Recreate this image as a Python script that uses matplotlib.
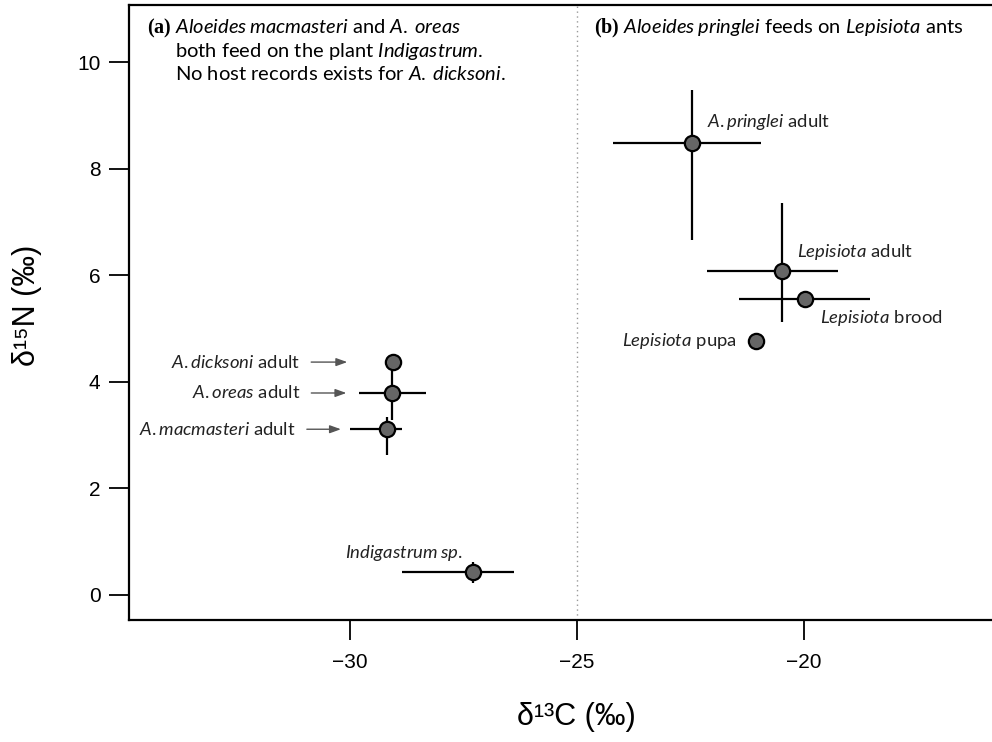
import matplotlib
matplotlib.use("Agg")
import matplotlib.pyplot as plt

# ── data (δ13C, δ15N with low/high extent of the bars) ───────────────────────
NAMES = ["A.pringlei", "Lepisiota adult", "Lepisiota brood", "Lepisiota pupa",
         "A.dicksoni", "A.oreas", "A.macmasteri", "Indigastrum"]
C13     = [-22.47, -20.48, -19.98, -21.06, -29.05, -29.07, -29.19, -27.29]
C13_LO  = [-24.21, -22.14, -21.43, -21.06, -29.05, -29.80, -30.00, -28.85]
C13_HI  = [-20.95, -19.25, -18.55, -21.06, -29.05, -28.33, -28.85, -26.39]
N15     = [8.48, 6.08, 5.55, 4.77, 4.37, 3.79, 3.11, 0.43]
N15_LO  = [6.66, 5.12, 5.55, 4.77, 4.37, 3.28, 2.63, 0.23]
N15_HI  = [9.47, 7.35, 5.55, 4.77, 4.37, 4.30, 3.34, 0.62]

LABELS = [r"$\mathit{A.pringlei}$ adult",
          r"$\mathit{Lepisiota}$ adult",
          r"$\mathit{Lepisiota}$ brood",
          r"$\mathit{Lepisiota}$ pupa",
          r"$\mathit{A.dicksoni}$ adult",
          r"$\mathit{A.oreas}$ adult",
          r"$\mathit{A.macmasteri}$ adult",
          r"$\mathit{Indigastrum\:sp.}$"]

PANEL_A = [r"$\mathbf{(a)}$ $\mathit{Aloeides\:macmasteri}$ and $\mathit{A.\:oreas}$",
           r"both feed on the plant $\mathit{Indigastrum}$.",
           r"No host records exists for $\mathit{A.\:dicksoni}$."]
PANEL_B = r"$\mathbf{(b)}$ $\mathit{Aloeides\:pringlei}$ feeds on $\mathit{Lepisiota}$ ants"

X_TICKS = [-30, -25, -20]
Y_TICKS = [0, 2, 4, 6, 8, 10]

plt.rcParams["font.family"] = ["Lato", "DejaVu Sans"]
plt.rcParams["mathtext.fontset"] = "custom"
plt.rcParams["mathtext.rm"] = "Lato"
plt.rcParams["mathtext.it"] = "Lato:italic"
plt.rcParams["mathtext.bf"] = "Liberation Serif:bold"

fig = plt.figure(figsize=(9.92, 7.42), dpi=100)
ax = fig.add_axes([0.130, 0.1644, 0.888, 0.8288])
ax.set_xlim(-34.87, -15.46)
ax.set_ylim(-0.47, 11.07)

ax.axvline(-25, color="#999999", linestyle=(0, (1, 2.5)), linewidth=1.0, zorder=1)

for i in range(len(NAMES)):
    ax.plot([C13_LO[i], C13_HI[i]], [N15[i], N15[i]], color="black", lw=1.6, zorder=2,
            solid_capstyle="butt")
    ax.plot([C13[i], C13[i]], [N15_LO[i], N15_HI[i]], color="black", lw=1.6, zorder=2,
            solid_capstyle="butt")
ax.plot(C13, N15, "o", ms=11, mfc="#666666", mec="black", mew=1.6, zorder=3, ls="none")

# label placement (offset in pixels from the point)
offsets = [(15, 21, "left"), (15, 19, "left"), (15, -19, "left"), (-19, 0, "right"),
           (-93, 0, "right"), (-92, 0, "right"), (-91, 0, "right"), (-10, 19, "right")]
arrows = {4, 5, 6}
for i, (dx, dy, ha) in enumerate(offsets):
    kw = {}
    if i in arrows:
        kw["arrowprops"] = dict(arrowstyle="-|>,head_length=0.5,head_width=0.18",
                                color="#555555", lw=1.0, shrinkA=6, shrinkB=33)
    ax.annotate(LABELS[i], xy=(C13[i], N15[i]), xytext=(dx, dy),
                textcoords="offset pixels", ha=ha, va="center",
                fontsize=13.3, color="#222222", **kw)

fig.text(147 / 992, 1 - 28 / 742, PANEL_A[0], ha="left", va="center", fontsize=14.5)
fig.text(175 / 992, 1 - 51 / 742, PANEL_A[1], ha="left", va="center", fontsize=14.5)
fig.text(175 / 992, 1 - 74 / 742, PANEL_A[2], ha="left", va="center", fontsize=14.5)
fig.text(594 / 992, 1 - 28 / 742, PANEL_B, ha="left", va="center", fontsize=14.5)

ax.set_xticks(X_TICKS)
ax.set_yticks(Y_TICKS)
ax.tick_params(direction="out", length=14.5, width=1.3, labelsize=15)
ax.tick_params(axis="x", pad=9)
ax.tick_params(axis="y", pad=6)
for lab in ax.get_xticklabels() + ax.get_yticklabels():
    lab.set_fontfamily(["Liberation Sans", "DejaVu Sans"])
for side in ["left", "bottom", "top", "right"]:
    ax.spines[side].set_linewidth(1.6)

ax.set_xlabel("δ¹³C (‰)", fontsize=22, family=["Liberation Sans", "DejaVu Sans"])
ax.set_ylabel("δ¹⁵N (‰)", fontsize=22, family=["Liberation Sans", "DejaVu Sans"])
ax.xaxis.set_label_coords(0.508, -0.133)
ax.yaxis.set_label_coords(-0.099, 0.512)

fig.savefig("out.png", dpi=100)
